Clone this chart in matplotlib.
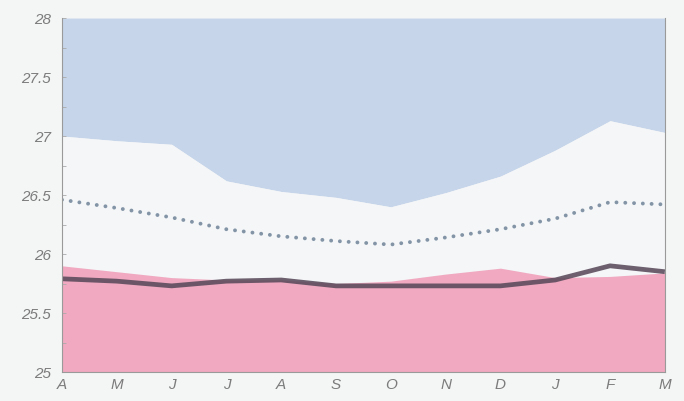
import matplotlib.pyplot as plt
import numpy as np

plt.rcParams.update({
    "font.family": "Liberation Sans",
    "font.size": 8.5,
})

MONTHS = ["A", "M", "J", "J", "A", "S", "O", "N", "D", "J", "F", "M"]
UPPER  = [27.0, 26.96, 26.93, 26.62, 26.53, 26.48, 26.40, 26.52, 26.66, 26.88, 27.13, 27.03]
DOTTED = [26.46, 26.39, 26.31, 26.21, 26.15, 26.11, 26.08, 26.14, 26.21, 26.30, 26.44, 26.42]
PINK   = [25.90, 25.85, 25.80, 25.78, 25.78, 25.75, 25.77, 25.83, 25.88, 25.80, 25.81, 25.84]
DARK   = [25.79, 25.77, 25.73, 25.77, 25.78, 25.73, 25.73, 25.73, 25.73, 25.78, 25.90, 25.85]
YTICKS = [25, 25.5, 26, 26.5, 27, 27.5, 28]
YLABELS = ["25", "25.5", "26", "26.5", "27", "27.5", "28"]

BG     = "#f4f5f5"
BLUE   = "#c6d5ea"
WHITE  = "#f4f6f8"
PINKC  = "#f0a9c0"
DOTC   = "#8394a6"
DARKC  = "#5a4a5a"
GREY   = "#7c7c7c"

x = np.arange(len(MONTHS))

fig = plt.figure(figsize=(6.84, 4.01), dpi=100, facecolor=BG)
ax = fig.add_axes([0.0906, 0.0723, 0.9816 - 0.0906 - 0.0096, 0.955 - 0.0723])
ax.set_facecolor(BG)

ax.fill_between(x, UPPER, 28, color=BLUE, lw=0)
ax.fill_between(x, PINK, UPPER, color=WHITE, lw=0)
ax.fill_between(x, 25, PINK, color=PINKC, lw=0)

ax.plot(x, DOTTED, color=DOTC, lw=2.8, linestyle=(0, (0.01, 2.25)),
        dash_capstyle="round")
ax.plot(x, DARK, color=DARKC, lw=3.4, solid_capstyle="butt", alpha=0.88)

ax.set_xlim(0, len(MONTHS) - 1)
ax.set_ylim(25, 28)
ax.set_xticks(x)
ax.set_xticklabels(MONTHS, fontstyle="italic", color=GREY, fontsize=11)
ax.set_yticks(YTICKS)
ax.set_yticklabels(YLABELS, fontstyle="italic", color=GREY, fontsize=11)
ax.set_yticks(np.arange(25.25, 28, 0.5), minor=True)
ax.tick_params(axis="y", which="both", direction="in", length=3, color="#aaaaaa",
               width=0.6, pad=8)
ax.tick_params(axis="x", length=0, pad=4)

for side in ["left", "bottom", "right"]:
    ax.spines[side].set_color("#9a9a9a")
    ax.spines[side].set_linewidth(0.8)
ax.spines["top"].set_visible(False)

fig.savefig("out.png", dpi=100, facecolor=BG)
